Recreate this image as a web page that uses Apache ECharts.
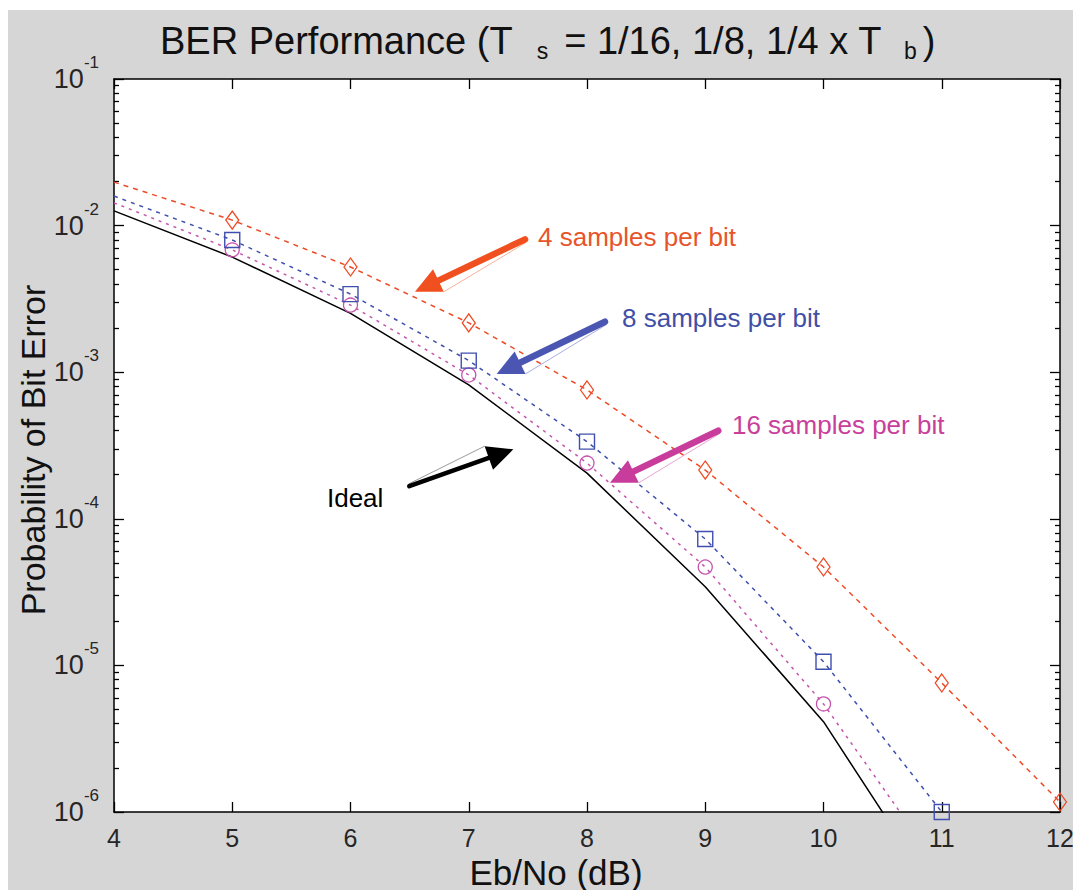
<!DOCTYPE html>
<html><head><meta charset="utf-8">
<script src="https://cdn.jsdelivr.net/npm/echarts@6/dist/echarts.min.js"></script>
<style>
html,body{margin:0;padding:0;background:#ffffff;}
#bg{position:absolute;left:8px;top:10px;width:1065px;height:880px;background:#d6d6d6;}
#chart{position:absolute;left:0;top:0;width:1073px;height:890px;}
</style></head><body>
<div id="bg"></div><div id="chart"></div>
<script>
// ---------------- data ----------------
const ebno = [4, 5, 6, 7, 8, 9, 10, 11, 12];
const ber4 = [1.98e-2, 1.09e-2, 5.22e-3, 2.17e-3, 7.57e-4, 2.15e-4, 4.69e-5, 7.59e-6, 1.17e-6];
const ebno8 = [4, 5, 6, 7, 8, 9, 10, 11];
const ber8 = [1.59e-2, 7.98e-3, 3.41e-3, 1.20e-3, 3.36e-4, 7.28e-5, 1.06e-5, 1.0e-6];
const ebno16 = [4, 5, 6, 7, 8, 9, 10, 11];
const ber16 = [1.43e-2, 6.83e-3, 2.87e-3, 9.57e-4, 2.40e-4, 4.69e-5, 5.46e-6, 3.96e-7];
const ebnoIdeal = [4, 5, 6, 7, 8, 9, 10, 11];
const berIdeal = [1.26e-2, 6.1e-3, 2.52e-3, 8.2e-4, 2.05e-4, 3.44e-5, 4.13e-6, 2.4e-7];

const xTicks = [4, 5, 6, 7, 8, 9, 10, 11, 12];
const yMajorTicks = [1e-6, 1e-5, 1e-4, 1e-3, 1e-2, 1e-1];
const yMinorMult = [2, 3, 4, 5, 6, 7, 8, 9];
const yMinorDecades = [1e-6, 1e-5, 1e-4, 1e-3, 1e-2];

// annotations (data coordinates)
const annLabels = ['4 samples per bit', '8 samples per bit', '16 samples per bit', 'Ideal'];
const annTextAt = [[7.586, 8.35e-3], [8.296, 2.34e-3], [9.226, 4.36e-4], [5.801, 1.39e-4]];
const arrowFrom = [[7.476, 8.06e-3], [8.152, 2.21e-3], [9.110, 3.99e-4], [6.497, 1.67e-4]];
const arrowTo = [[6.545, 3.54e-3], [7.236, 9.73e-4], [8.194, 1.76e-4], [7.377, 2.98e-4]];

// ---------------- styles ----------------
const FONT = '"Liberation Sans", Arial, Helvetica, sans-serif';
const RED = '#ef4a26', BLUE = '#3f4fae', MAG = '#c653ad', BLACK = '#000000';
const annText = ['#e8542a', '#3f4fa6', '#c8409a', '#000000'];
const annArrow = ['#f04f1f', '#4b56b3', '#c83c9c', '#000000'];
const annShadow = ['#f7b39a', '#a9aee0', '#e7a6d4', '#9a9a9a'];

const yMinorTicks = [];
yMinorDecades.forEach(d => yMinorMult.forEach(m => yMinorTicks.push(m * d)));

function mkData(xs, ys, firstNoSymbol) {
  return xs.map((x, i) => (firstNoSymbol && i === 0) ? { value: [x, ys[i]], symbol: 'none' } : [x, ys[i]]);
}

const chart = echarts.init(document.getElementById('chart'), null, { renderer: 'svg', width: 1073, height: 890 });

const axisLineStyle = { color: '#000', width: 1.5 };
const tickStyle = { color: '#000', width: 1.3 };

function yAxisCfg(pos, major, labels) {
  return {
    type: 'log', logBase: 10, min: 1e-6, max: 1e-1, position: pos,
    axisLine: { show: major, lineStyle: axisLineStyle },
    axisTick: { show: true, inside: true, length: major ? 10 : 5, customValues: major ? yMajorTicks : yMinorTicks, lineStyle: tickStyle },
    axisLabel: labels ? {
      show: true, customValues: yMajorTicks, margin: 15,
      formatter: v => '{b|10}{s|' + Math.round(Math.log10(v)) + '}',
      rich: {
        b: { fontSize: 27, lineHeight: 50, fontFamily: FONT, color: '#262626' },
        s: { fontSize: 17, lineHeight: 17, verticalAlign: 'top', fontFamily: FONT, color: '#262626' }
      }
    } : { show: false },
    splitLine: { show: false }, minorTick: { show: false }, minorSplitLine: { show: false }
  };
}

function xAxisCfg(pos, labels) {
  return {
    type: 'value', min: 4, max: 12, interval: 1, position: pos,
    axisLine: { show: true, lineStyle: axisLineStyle },
    axisTick: { show: true, inside: true, length: 10, customValues: xTicks, lineStyle: tickStyle },
    axisLabel: labels ? { show: true, customValues: xTicks, margin: 13, fontSize: 25, fontFamily: FONT, color: '#262626' } : { show: false },
    splitLine: { show: false }
  };
}

const option = {
  animation: false,
  backgroundColor: 'transparent',
  grid: { left: 114, right: 13, top: 79, bottom: 78, containLabel: false, outerBoundsMode: 'none', show: true, backgroundColor: '#ffffff', borderWidth: 0 },
  xAxis: [xAxisCfg('bottom', true), xAxisCfg('top', false)],
  yAxis: [yAxisCfg('left', true, true), yAxisCfg('left', false, false), yAxisCfg('right', true, false), yAxisCfg('right', false, false)],
  series: [
    {
      name: 'Ideal', type: 'line', xAxisIndex: 0, yAxisIndex: 0, data: mkData(ebnoIdeal, berIdeal, false),
      showSymbol: false, lineStyle: { color: BLACK, width: 1.5 }, z: 2
    },
    {
      name: '16 samples per bit', type: 'line', xAxisIndex: 0, yAxisIndex: 0, data: mkData(ebno16, ber16, true),
      symbol: 'circle', symbolSize: 14, showAllSymbol: true,
      lineStyle: { color: MAG, width: 1.5, type: [3, 5] },
      itemStyle: { color: 'rgba(0,0,0,0)', borderColor: MAG, borderWidth: 1.3 }, z: 3
    },
    {
      name: '8 samples per bit', type: 'line', xAxisIndex: 0, yAxisIndex: 0, data: mkData(ebno8, ber8, true),
      symbol: 'rect', symbolSize: 15, showAllSymbol: true,
      lineStyle: { color: BLUE, width: 1.5, type: [4, 5] },
      itemStyle: { color: 'rgba(0,0,0,0)', borderColor: BLUE, borderWidth: 1.4 }, z: 4
    },
    {
      name: '4 samples per bit', type: 'line', xAxisIndex: 0, yAxisIndex: 0, data: mkData(ebno, ber4, true),
      symbol: 'diamond', symbolSize: [13, 18], showAllSymbol: true,
      lineStyle: { color: RED, width: 1.5, type: [5, 5] },
      itemStyle: { color: 'rgba(0,0,0,0)', borderColor: RED, borderWidth: 1.3 }, z: 5
    }
  ]
};
chart.setOption(option);

// ---------------- annotations & texts ----------------
const graphics = [];
graphics.push({
  type: 'text', x: 160, y: 24, z: 100,
  style: {
    text: '{m|BER Performance (T}{s|s}{m|= 1/16, 1/8, 1/4 x T}{s2|b}{m|)}',
    textVerticalAlign: 'top', textAlign: 'left',
    rich: {
      m: { fontSize: 38, lineHeight: 38, padding: [0, 0, 4, 0], fontFamily: FONT, fill: '#111' },
      s: { fontSize: 23, lineHeight: 23, verticalAlign: 'bottom', fontFamily: FONT, fill: '#111', padding: [0, 16, 0, 24] },
      s2: { fontSize: 23, lineHeight: 23, verticalAlign: 'bottom', fontFamily: FONT, fill: '#111', padding: [0, 6, 0, 22] }
    }
  }
});
graphics.push({
  type: 'text', x: 556, y: 872, z: 100,
  style: { text: 'Eb/No (dB)', fontSize: 35, fontFamily: FONT, fill: '#111', textAlign: 'center', textVerticalAlign: 'middle' }
});
graphics.push({
  type: 'text', x: 33, y: 450, rotation: Math.PI / 2, z: 100,
  style: { text: 'Probability of Bit Error', fontSize: 34, fontFamily: FONT, fill: '#111', textAlign: 'center', textVerticalAlign: 'middle' }
});

function toPx(p) { return chart.convertToPixel({ xAxisIndex: 0, yAxisIndex: 0 }, p); }

for (let i = 0; i < annLabels.length; i++) {
  const p0 = toPx(arrowFrom[i]), p1 = toPx(arrowTo[i]);
  const dx = p1[0] - p0[0], dy = p1[1] - p0[1], L = Math.hypot(dx, dy);
  const ux = dx / L, uy = dy / L, nx = -uy, ny = ux;
  const Lh = 26, hw = 12.5, sw = i === 3 ? 4.5 : 6.5;
  const nk = [p1[0] - ux * Lh, p1[1] - uy * Lh];
  graphics.push({
    type: 'line', z: 101,
    shape: { x1: nk[0] - nx * hw, y1: nk[1] - ny * hw, x2: p0[0] - nx * sw / 2, y2: p0[1] - ny * sw / 2 },
    style: { stroke: annShadow[i], lineWidth: 1 }
  });
  graphics.push({
    type: 'line', z: 102,
    shape: { x1: p0[0], y1: p0[1], x2: nk[0] + ux * 3, y2: nk[1] + uy * 3 },
    style: { stroke: annArrow[i], lineWidth: sw, lineCap: 'round' }
  });
  graphics.push({
    type: 'polygon', z: 103,
    shape: { points: [[p1[0], p1[1]], [nk[0] + nx * hw, nk[1] + ny * hw], [nk[0] - nx * hw, nk[1] - ny * hw]] },
    style: { fill: annArrow[i] }
  });
  const t = toPx(annTextAt[i]);
  graphics.push({
    type: 'text', x: t[0], y: t[1], z: 104,
    style: { text: annLabels[i], fontSize: 26, fontFamily: FONT, fill: annText[i], textAlign: 'left', textVerticalAlign: 'middle' }
  });
}
chart.setOption({ graphic: graphics });
</script>
</body></html>
